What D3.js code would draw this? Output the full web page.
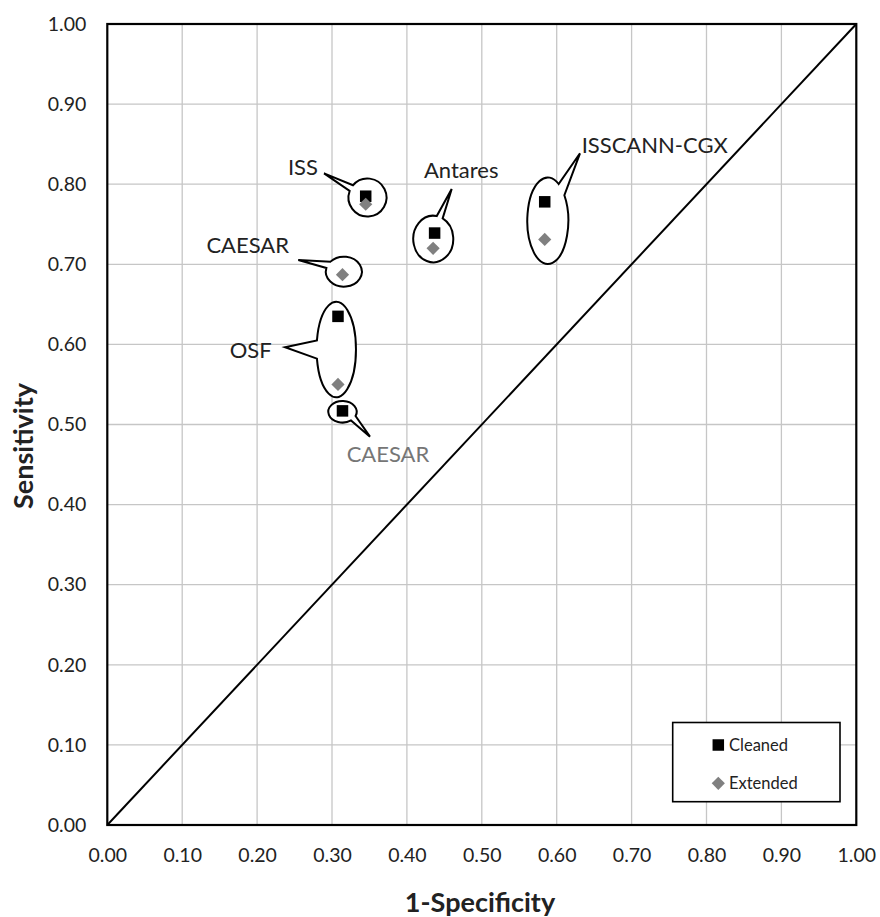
<!DOCTYPE html>
<html>
<head>
<meta charset="utf-8">
<script src="https://cdn.jsdelivr.net/npm/d3@7/dist/d3.min.js"></script>
<style>
  html, body { margin: 0; padding: 0; background: #fff; }
  svg { display: block; }
  text { font-family: Lato, "Liberation Sans", Arial, sans-serif; fill: #222; }
</style>
</head>
<body>
<div id="chart"></div>
<script>
// ROC-space points: x = 1-Specificity, y = Sensitivity
const models = ["ISS", "CAESAR", "OSF", "Antares", "ISSCANN-CGX"];
const cleanedX = [0.345, 0.314, 0.308, 0.437, 0.584];
const cleanedY = [0.785, 0.517, 0.635, 0.739, 0.778];
const extendedX = [0.345, 0.314, 0.308, 0.435, 0.584];
const extendedY = [0.775, 0.687, 0.550, 0.720, 0.731];
const seriesNames = ["Cleaned", "Extended"];
const tickValues = [0, 0.1, 0.2, 0.3, 0.4, 0.5, 0.6, 0.7, 0.8, 0.9, 1.0];

// Oval callouts: centre and tip in data units, radii in px,
// wedge base as a parametric angle (deg) and half-width (deg)
const callouts = [
  { text: "ISS", cx: 0.3474, cy: 0.7834, rx: 19, ry: 19, tx: 0.2894, ty: 0.8136, ang: -150, half: 10, lx: 0.2813, ly: 0.8115, anchor: "end", grey: false },
  { text: "CAESAR", cx: 0.3158, cy: 0.6908, rx: 18, ry: 15, tx: 0.2550, ty: 0.7054, ang: -152, half: 14, lx: 0.2426, ly: 0.7145, anchor: "end", grey: false },
  { text: "OSF", cx: 0.3057, cy: 0.5936, rx: 19.7, ry: 47.8, tx: 0.2373, ty: 0.5964, ang: 180, half: 11, lx: 0.2195, ly: 0.5834, anchor: "end", grey: false },
  { text: "CAESAR", cx: 0.3140, cy: 0.5159, rx: 14.2, ry: 10.8, tx: 0.3507, ty: 0.4848, ang: 38, half: 15, lx: 0.3196, ly: 0.4536, anchor: "start", grey: true },
  { text: "Antares", cx: 0.4352, cy: 0.7316, rx: 20, ry: 23.3, tx: 0.4598, ty: 0.7940, ang: -71, half: 9, lx: 0.4228, ly: 0.8074, anchor: "start", grey: false },
  { text: "ISSCANN-CGX", cx: 0.5881, cy: 0.7544, rx: 20.5, ry: 43.3, tx: 0.6311, ty: 0.8386, ang: -47, half: 11, lx: 0.6333, ly: 0.8386, anchor: "start", grey: false }
];

const W = 880, H = 917;
const plot = { left: 107.3, right: 856.3, top: 24, bottom: 825 };
const cleanedColor = "#000000";
const extendedColor = "#808080";

const svg = d3.select("#chart").append("svg").attr("width", W).attr("height", H);

const x = d3.scaleLinear().domain([0, 1]).range([plot.left, plot.right]);
const y = d3.scaleLinear().domain([0, 1]).range([plot.bottom, plot.top]);
const fmt = d3.format(".2f");

// Gridlines
const grid = svg.append("g").attr("stroke", "#c6c6c6").attr("stroke-width", 1.3);
grid.selectAll("line.v").data(tickValues.slice(1, -1)).join("line")
  .attr("x1", d => x(d)).attr("x2", d => x(d)).attr("y1", y(0)).attr("y2", y(1));
grid.selectAll("line.h").data(tickValues.slice(1, -1)).join("line")
  .attr("y1", d => y(d)).attr("y2", d => y(d)).attr("x1", x(0)).attr("x2", x(1));

// Chance diagonal
svg.append("line")
  .attr("x1", x(0)).attr("y1", y(0)).attr("x2", x(1)).attr("y2", y(1))
  .attr("stroke", "#000").attr("stroke-width", 2);

// Plot frame
svg.append("rect")
  .attr("x", x(0)).attr("y", y(1)).attr("width", x(1) - x(0)).attr("height", y(0) - y(1))
  .attr("fill", "none").attr("stroke", "#000").attr("stroke-width", 2.2);

// Axes
const xAxis = svg.append("g").attr("transform", `translate(0,${plot.bottom})`)
  .call(d3.axisBottom(x).tickValues(tickValues).tickFormat(fmt).tickSize(0).tickPadding(23));
const yAxis = svg.append("g").attr("transform", `translate(${plot.left},0)`)
  .call(d3.axisLeft(y).tickValues(tickValues).tickFormat(fmt).tickSize(0).tickPadding(21));
[xAxis, yAxis].forEach(g => {
  g.select(".domain").remove();
  g.selectAll("text").attr("font-size", 19.5).attr("fill", "#222")
    .style("font-family", "Lato, 'Liberation Sans', Arial, sans-serif");
});

// Axis titles
svg.append("text")
  .attr("x", 480).attr("y", 911.5)
  .attr("text-anchor", "middle").attr("font-size", 27).attr("font-weight", "bold")
  .text("1-Specificity");
svg.append("text")
  .attr("transform", `translate(33,446) rotate(-90)`)
  .attr("text-anchor", "middle").attr("font-size", 27).attr("font-weight", "bold")
  .text("Sensitivity");

// Callout shapes: oval outline with a wedge pointing at the label
function calloutPath(c) {
  const cx = x(c.cx), cy = y(c.cy);
  const a1 = (c.ang - c.half) * Math.PI / 180;
  const a2 = (c.ang + c.half) * Math.PI / 180;
  const p1 = [cx + c.rx * Math.cos(a1), cy + c.ry * Math.sin(a1)];
  const p2 = [cx + c.rx * Math.cos(a2), cy + c.ry * Math.sin(a2)];
  return `M${p2[0]},${p2[1]} A${c.rx},${c.ry} 0 1 1 ${p1[0]},${p1[1]} L${x(c.tx)},${y(c.ty)} Z`;
}
const cg = svg.append("g");
cg.selectAll("path").data(callouts).join("path")
  .attr("d", calloutPath)
  .attr("fill", "#fff").attr("stroke", "#000").attr("stroke-width", 2)
  .attr("stroke-linejoin", "miter");
cg.selectAll("text").data(callouts).join("text")
  .attr("x", d => x(d.lx)).attr("y", d => y(d.ly))
  .attr("text-anchor", d => d.anchor)
  .attr("font-size", 22)
  .style("fill", d => d.grey ? "#767676" : "#222")
  .text(d => d.text);

// Markers
const cleaned = models.map((m, i) => ({ m, x: cleanedX[i], y: cleanedY[i] }));
const extended = models.map((m, i) => ({ m, x: extendedX[i], y: extendedY[i] }));
const sq = 11.5, dm = 6.6;

svg.append("g").selectAll("rect").data(cleaned).join("rect")
  .attr("x", d => x(d.x) - sq / 2).attr("y", d => y(d.y) - sq / 2)
  .attr("width", sq).attr("height", sq).attr("fill", cleanedColor);
svg.append("g").selectAll("path").data(extended).join("path")
  .attr("d", d => { const px = x(d.x), py = y(d.y); return `M${px},${py - dm} L${px + dm},${py} L${px},${py + dm} L${px - dm},${py} Z`; })
  .attr("fill", extendedColor);

// Legend
const lg = svg.append("g");
lg.append("rect").attr("x", 672.7).attr("y", 722.5).attr("width", 167.3).attr("height", 79.2)
  .attr("fill", "#fff").attr("stroke", "#000").attr("stroke-width", 1.6);
const legendRows = [
  { name: seriesNames[0], cy: 745, type: "square" },
  { name: seriesNames[1], cy: 783.3, type: "diamond" }
];
legendRows.forEach(r => {
  if (r.type === "square") {
    lg.append("rect").attr("x", 718.3 - sq / 2).attr("y", r.cy - sq / 2).attr("width", sq).attr("height", sq).attr("fill", cleanedColor);
  } else {
    lg.append("path").attr("d", `M718.3,${r.cy - dm} L${718.3 + dm},${r.cy} L718.3,${r.cy + dm} L${718.3 - dm},${r.cy} Z`).attr("fill", extendedColor);
  }
  lg.append("text").attr("x", 729).attr("y", r.cy + 6).attr("font-size", 16.5).text(r.name);
});
</script>
</body>
</html>
